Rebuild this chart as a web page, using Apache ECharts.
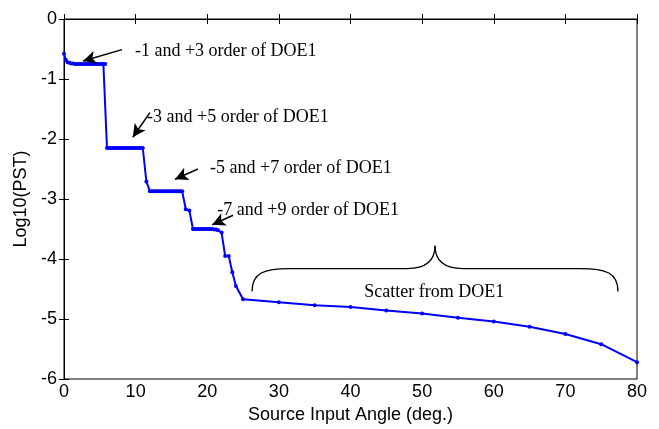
<!DOCTYPE html>
<html lang="en">
<head>
    <meta charset="UTF-8">
    <title>Log10(PST)</title>
    <script src="https://cdn.jsdelivr.net/npm/echarts@6/dist/echarts.min.js"></script>
    <style>
        html, body { margin: 0; padding: 0; background: #fff; }
        #main { width: 659px; height: 429px; }
    </style>
</head>
<body>
    <div id="main"></div>
    <script>
        // angle (deg) and log10(PST)
        var angles = [0, 0.25, 0.5, 0.75, 1, 1.25, 1.5, 1.75, 2, 2.25, 2.5, 2.75, 3, 3.25, 3.5, 3.75, 4, 4.25, 4.5, 4.75, 5, 5.25, 5.5, 5.75,
            6, 6.25, 6.5, 6.75, 7, 7.25, 7.5, 7.75, 8, 8.25, 8.5, 8.75, 9, 9.25, 9.5, 9.75, 10, 10.25, 10.5, 10.75, 11,
            11.5, 12, 12.25, 12.5, 12.75, 13, 13.25, 13.5, 13.75, 14, 14.25, 14.5, 14.75, 15, 15.25, 15.5, 15.75, 16, 16.25, 16.5,
            17, 17.5, 18, 18.25, 18.5, 18.75, 19, 19.25, 19.5, 19.75, 20, 20.25, 20.5, 20.75, 21, 21.25, 21.5,
            22, 22.5, 23, 23.5, 24, 25, 30, 35, 40, 45, 50, 55, 60, 65, 70, 75, 80];
        var logPST = [-0.58, -0.68, -0.72, -0.73, -0.74, -0.74, -0.75, -0.75, -0.75, -0.75, -0.75, -0.75, -0.75, -0.75, -0.75, -0.75, -0.75, -0.75, -0.75, -0.75, -0.75, -0.75, -0.75, -0.75,
            -2.15, -2.15, -2.15, -2.15, -2.15, -2.15, -2.15, -2.15, -2.15, -2.15, -2.15, -2.15, -2.15, -2.15, -2.15, -2.15, -2.15, -2.15, -2.15, -2.15, -2.15,
            -2.71, -2.87, -2.87, -2.87, -2.87, -2.87, -2.87, -2.87, -2.87, -2.87, -2.87, -2.87, -2.87, -2.87, -2.87, -2.87, -2.87, -2.87, -2.87, -2.87,
            -3.17, -3.19, -3.50, -3.50, -3.50, -3.50, -3.50, -3.50, -3.50, -3.50, -3.50, -3.50, -3.50, -3.50, -3.51, -3.51, -3.52,
            -3.56, -3.95, -3.95, -4.22, -4.45, -4.67, -4.72, -4.77, -4.80, -4.86, -4.91, -4.98, -5.04, -5.13, -5.25, -5.42, -5.72];

        // order labels with arrow tail / head in data units
        var orderLabels = ['-1 and +3 order of DOE1', '-3 and +5 order of DOE1', '-5 and +7 order of DOE1', '-7 and +9 order of DOE1'];
        var labelPos = [[9.9, -0.53], [11.6, -1.64], [20.4, -2.48], [21.4, -3.19]];
        var arrowTail = [[8.1, -0.51], [12.0, -1.56], [18.7, -2.50], [23.6, -3.27]];
        var arrowHead = [[2.65, -0.70], [9.6, -1.97], [15.5, -2.67], [20.7, -3.43]];

        var scatterLabel = 'Scatter from DOE1';
        var scatterPos = [51.7, -4.55];
        // brace: left end, flat level, tip, right end
        var brace = [[26.25, -4.54], [51.8, -4.16], [51.8, -3.78], [77.35, -4.54]];

        var points = [];
        for (var i = 0; i < angles.length; i++) {
            points.push([angles[i], logPST[i]]);
        }

        var arrows = [];
        for (var j = 0; j < arrowTail.length; j++) {
            arrows.push([{ coord: arrowTail[j], symbol: 'none' }, { coord: arrowHead[j], symbol: 'arrow' }]);
        }

        var sans = 'Arial, "Liberation Sans", sans-serif';
        var serif = '"Times New Roman", "Liberation Serif", serif';

        var myChart = echarts.init(document.getElementById('main'));
        var option = {
            animation: false,
            backgroundColor: '#fff',
            grid: { left: 64, top: 19, right: 22, bottom: 48, show: true, borderColor: '#000', borderWidth: 1 },
            xAxis: [{
                type: 'value', min: 0, max: 80, interval: 10,
                name: 'Source Input Angle (deg.)', nameLocation: 'middle', nameGap: 27,
                nameTextStyle: { fontFamily: sans, fontSize: 18, color: '#000' },
                axisLine: { lineStyle: { color: '#000' } },
                axisTick: { inside: true, length: 5, lineStyle: { color: '#000' } },
                axisLabel: { fontFamily: sans, fontSize: 18, color: '#000', margin: 4 },
                splitLine: { show: false }
            }, {
                type: 'value', min: 0, max: 80, interval: 10, position: 'top',
                axisLine: { lineStyle: { color: '#000' } },
                axisTick: { inside: true, length: 5, lineStyle: { color: '#000' } },
                axisLabel: { show: false }, splitLine: { show: false }
            }],
            yAxis: [{
                type: 'value', min: -6, max: 0, interval: 1,
                name: 'Log10(PST)', nameLocation: 'middle', nameGap: 33, nameRotate: 90,
                nameTextStyle: { fontFamily: sans, fontSize: 18, color: '#000' },
                axisLine: { lineStyle: { color: '#000' } },
                axisTick: { inside: true, length: 5, lineStyle: { color: '#000' } },
                axisLabel: { fontFamily: sans, fontSize: 18, color: '#000', margin: 7 },
                splitLine: { show: false }
            }, {
                type: 'value', min: -6, max: 0, interval: 1, position: 'right',
                axisLine: { lineStyle: { color: '#000' } },
                axisTick: { inside: true, length: 5, lineStyle: { color: '#000' } },
                axisLabel: { show: false }, splitLine: { show: false }
            }],
            series: [{
                type: 'line',
                data: points,
                symbol: 'circle',
                symbolSize: 4,
                showAllSymbol: true,
                lineStyle: { color: '#0000ff', width: 2 },
                itemStyle: { color: '#0000ff' },
                markLine: {
                    silent: true,
                    animation: false,
                    symbolSize: [10, 13],
                    label: { show: false },
                    lineStyle: { color: '#000', width: 1.5, type: 'solid' },
                    data: arrows
                }
            }]
        };
        myChart.setOption(option);

        // text labels and the brace, placed through the axes
        function px(p) {
            return myChart.convertToPixel({ gridIndex: 0 }, p);
        }
        var graphics = [];
        for (var k = 0; k < orderLabels.length; k++) {
            var lp = px(labelPos[k]);
            graphics.push({
                type: 'text', x: lp[0], y: lp[1],
                style: { text: orderLabels[k], font: '18px ' + serif, fill: '#000', verticalAlign: 'middle' }
            });
        }
        var sp = px(scatterPos);
        graphics.push({
            type: 'text', x: sp[0], y: sp[1],
            style: { text: scatterLabel, font: '18px ' + serif, fill: '#000', align: 'center', verticalAlign: 'middle' }
        });

        var b0 = px(brace[0]), b1 = px(brace[1]), b2 = px(brace[2]), b3 = px(brace[3]);
        var fy = b1[1], tx = b2[0], ty = b2[1];
        var braceStyle = { stroke: '#000', lineWidth: 1.3, fill: null };
        graphics.push(
            { type: 'bezierCurve', shape: { x1: b0[0], y1: b0[1], cpx1: b0[0], cpy1: fy + 4, cpx2: b0[0] + 12, cpy2: fy, x2: b0[0] + 38, y2: fy }, style: braceStyle },
            { type: 'line', shape: { x1: b0[0] + 38, y1: fy, x2: tx - 28, y2: fy }, style: braceStyle },
            { type: 'bezierCurve', shape: { x1: tx - 28, y1: fy, cpx1: tx - 8, cpy1: fy, cpx2: tx, cpy2: fy - 8, x2: tx, y2: ty }, style: braceStyle },
            { type: 'bezierCurve', shape: { x1: tx, y1: ty, cpx1: tx, cpy1: fy - 8, cpx2: tx + 8, cpy2: fy, x2: tx + 28, y2: fy }, style: braceStyle },
            { type: 'line', shape: { x1: tx + 28, y1: fy, x2: b3[0] - 38, y2: fy }, style: braceStyle },
            { type: 'bezierCurve', shape: { x1: b3[0] - 38, y1: fy, cpx1: b3[0] - 12, cpy1: fy, cpx2: b3[0], cpy2: fy + 4, x2: b3[0], y2: b3[1] }, style: braceStyle }
        );
        myChart.setOption({ graphic: graphics });
    </script>
</body>
</html>
